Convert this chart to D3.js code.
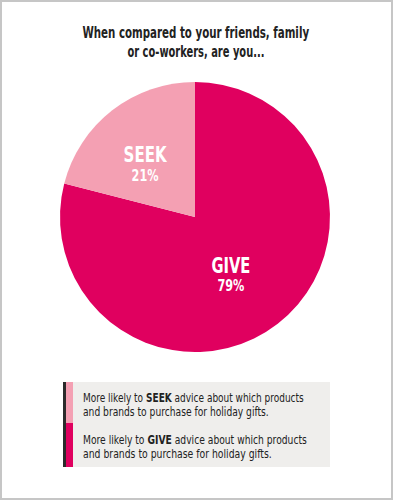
<!DOCTYPE html>
<html><head><meta charset="utf-8">
<script src="https://cdn.jsdelivr.net/npm/d3@7"></script>
<style>
html,body{margin:0;padding:0;background:#fff;}
svg{display:block;}
</style></head>
<body>
<script>
const categories = ["GIVE", "SEEK"];
const values = [79, 21];
const colors = ["#e0005f", "#f4a0b3"];
const titleLines = ["When compared to your friends, family", "or co-workers, are you..."];
const legendItems = [
  {pre: "More likely to", key: "SEEK", post: "advice about which products", line2: "and brands to purchase for holiday gifts."},
  {pre: "More likely to", key: "GIVE", post: "advice about which products", line2: "and brands to purchase for holiday gifts."}
];
const legendColors = ["#f4a0b3", "#e0005f"];

const W = 393, H = 500;
const font = "'DejaVu Sans','Roboto',sans-serif";
const svg = d3.select("body").append("svg").attr("width", W).attr("height", H);

// draws runs of text sequentially (separated by a space width), then compresses horizontally to target width
function drawRuns(parent, x, y, runs, size, target, anchor, color) {
  const g = parent.append("g");
  const inner = g.append("g");
  const probe = inner.append("text").attr("font-family", font).attr("font-size", size).text("a a");
  const probe2 = inner.append("text").attr("font-family", font).attr("font-size", size).text("aa");
  const space = probe.node().getComputedTextLength() - probe2.node().getComputedTextLength();
  probe.remove(); probe2.remove();
  let cur = 0;
  runs.forEach((r, i) => {
    if (i > 0) cur += space;
    const t = inner.append("text").attr("x", cur).attr("y", 0)
      .attr("font-family", font).attr("font-size", size)
      .attr("font-weight", r.bold ? "bold" : "normal")
      .attr("fill", color).text(r.t);
    cur += t.node().getComputedTextLength();
  });
  const s = target / cur;
  const x0 = anchor === "middle" ? x - target / 2 : x;
  g.attr("transform", `translate(${x0},${y}) scale(${s},1)`);
  return g;
}

svg.append("rect").attr("x", 1).attr("y", 1).attr("width", W - 2).attr("height", H - 2)
  .attr("fill", "#fff").attr("stroke", "#c6c6c6").attr("stroke-width", 2);

const titleW = [227, 137];
titleLines.forEach((l, i) => drawRuns(svg, 196, 38 + i * 19, [{t: l, bold: true}], 15.5, titleW[i], "middle", "#222"));

const cx = 195, cy = 217, R = 135;
const data = categories.map((c, i) => ({cat: c, value: values[i], color: colors[i]}));
const pie = d3.pie().value(d => d.value).sort(null).startAngle(0).endAngle(2 * Math.PI);
const arcs = pie(data);
const arc = d3.arc().innerRadius(0).outerRadius(R);
const g = svg.append("g").attr("transform", `translate(${cx},${cy})`);
g.selectAll("path").data(arcs).join("path").attr("d", arc).attr("fill", d => d.data.color);

const labelArc = d3.arc().innerRadius(70).outerRadius(70);
arcs.forEach(a => {
  const [x0, y] = labelArc.centroid(a);
  const x = x0 - 7;
  const catW = a.data.cat === "GIVE" ? 39 : 43;
  drawRuns(g, x, y + 0.5, [{t: a.data.cat, bold: true}], 20.5, catW, "middle", "#fff");
  drawRuns(g, x, y + 19, [{t: a.data.value + "%", bold: true}], 15, 27, "middle", "#fff");
});

// legend
const lx = 63, ly = 382, lw = 267, lh = 85;
const lg = svg.append("g");
lg.append("rect").attr("x", lx).attr("y", ly).attr("width", lw).attr("height", lh).attr("fill", "#efeeec");
lg.append("rect").attr("x", lx).attr("y", ly).attr("width", 3).attr("height", lh).attr("fill", "#2b2b2b");
const rowH = [41, 44];
const lineW = [[221, 186], [224, 189]];
let yy = ly;
legendItems.forEach((it, i) => {
  lg.append("rect").attr("x", lx + 3).attr("y", yy).attr("width", 7).attr("height", rowH[i]).attr("fill", legendColors[i]);
  const off = i ? 21 : 20;
  drawRuns(lg, 83, yy + off, [{t: it.pre}, {t: it.key, bold: true}, {t: it.post}], 12, lineW[i][0], "start", "#222");
  drawRuns(lg, 83, yy + off + 14.2, [{t: it.line2}], 12, lineW[i][1], "start", "#222");
  yy += rowH[i];
});
</script>
</body></html>
